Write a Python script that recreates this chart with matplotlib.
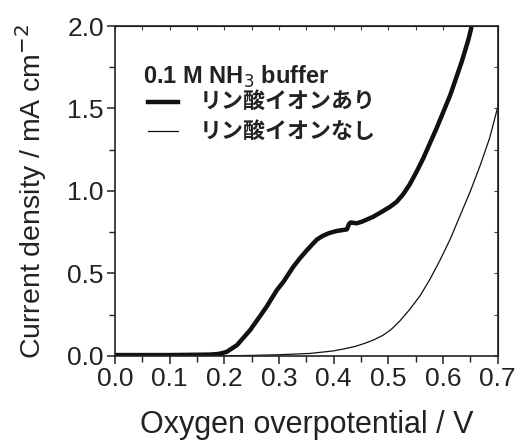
import matplotlib
matplotlib.use("Agg")
import matplotlib.pyplot as plt
from matplotlib.lines import Line2D

plt.rcParams['font.family'] = ['Liberation Sans', 'DejaVu Sans']

# Linear sweep, with phosphate ions
with_x = [0.0, 0.10, 0.174, 0.190, 0.204, 0.223, 0.247, 0.265, 0.277, 0.296, 0.308,
          0.326, 0.338, 0.351, 0.369, 0.380, 0.392, 0.405, 0.424, 0.428, 0.431, 0.442,
          0.451, 0.460, 0.472, 0.488, 0.503, 0.515, 0.527, 0.539, 0.552, 0.564, 0.576,
          0.588, 0.598, 0.613, 0.634, 0.646, 0.652]
with_y = [0.005, 0.005, 0.008, 0.012, 0.024, 0.065, 0.156, 0.24, 0.297, 0.399, 0.449,
          0.54, 0.591, 0.641, 0.705, 0.728, 0.745, 0.757, 0.767, 0.800, 0.809, 0.804,
          0.813, 0.826, 0.843, 0.874, 0.904, 0.934, 0.980, 1.040, 1.120, 1.200, 1.290,
          1.380, 1.460, 1.581, 1.783, 1.915, 1.995]

# Linear sweep, without phosphate ions
without_x = [0.0, 0.20, 0.25, 0.30, 0.357, 0.399, 0.418, 0.440, 0.460, 0.475, 0.490,
             0.505, 0.521, 0.539, 0.558, 0.576, 0.594, 0.613, 0.631, 0.650, 0.668,
             0.685, 0.700]
without_y = [0.0, 0.0, 0.003, 0.007, 0.015, 0.030, 0.042, 0.058, 0.080, 0.100, 0.125,
             0.160, 0.212, 0.282, 0.365, 0.465, 0.578, 0.708, 0.850, 1.000, 1.157,
             1.320, 1.510]

legend_title = "0.1 M NH$_3$ buffer"
series_labels = ["リン酸イオンあり", "リン酸イオンなし"]

fig = plt.figure(figsize=(5.18, 4.41), dpi=100)
ax = fig.add_axes([0.222, 0.193, 0.739, 0.748])

ax.plot(with_x, with_y, color='#111111', lw=3.2, solid_capstyle='butt',
        solid_joinstyle='round')
ax.plot(without_x, without_y, color='#111111', lw=0.9, solid_joinstyle='round')

ax.set_xlim(0, 0.7)
ax.set_ylim(0, 2.0)
ax.set_xticks([0.0, 0.1, 0.2, 0.3, 0.4, 0.5, 0.6, 0.7])
ax.set_xticks([0.05, 0.15, 0.25, 0.35, 0.45, 0.55, 0.65], minor=True)
ax.set_yticks([0.0, 0.5, 1.0, 1.5, 2.0])
ax.set_yticks([0.25, 0.75, 1.25, 1.75], minor=True)
ax.set_xticklabels([f"{v:.1f}" for v in ax.get_xticks()])
ax.set_yticklabels([f"{v:.1f}" for v in ax.get_yticks()])
ax.tick_params(which='major', direction='out', length=6, width=1.1,
               labelsize=19, colors='#222222', pad=2)
ax.tick_params(which='minor', direction='out', length=4, width=1.0, colors='#222222')
for s in ax.spines.values():
    s.set_linewidth(1.2)
    s.set_color('#222222')

# Mirror ticks pointing inward on top and right
top = ax.secondary_xaxis('top')
top.set_xticks([i * 0.05 for i in range(15)])
top.tick_params(direction='in', length=3, width=0.8, labeltop=False, colors='#444444')
right = ax.secondary_yaxis('right')
right.set_yticks([i * 0.25 for i in range(9)])
right.tick_params(direction='in', length=3, width=0.8, labelright=False, colors='#444444')

ax.set_xlabel("Oxygen overpotential / V", fontsize=22, color='#222222', labelpad=14)
ax.set_ylabel("Current density / mA cm$^{-2}$", fontsize=20.5, color='#222222', labelpad=13)

# Legend block
ax.text(0.072, 0.845, legend_title, transform=ax.transAxes, fontsize=17,
        fontweight='bold', va='center', ha='left', color='#222222')
for i, (lab, lw) in enumerate(zip(series_labels, [3.2, 0.9])):
    yy = 0.77 - i * 0.089
    ax.add_line(Line2D([0.086, 0.165], [yy, yy], transform=ax.transAxes,
                       color='#111111', lw=lw))
    ax.text(0.222, yy, lab, transform=ax.transAxes, fontsize=15.8, fontweight='bold',
            va='center', ha='left', color='#222222',
            family=['Noto Sans CJK JP', 'DejaVu Sans'])

fig.savefig("out.png", dpi=100)
